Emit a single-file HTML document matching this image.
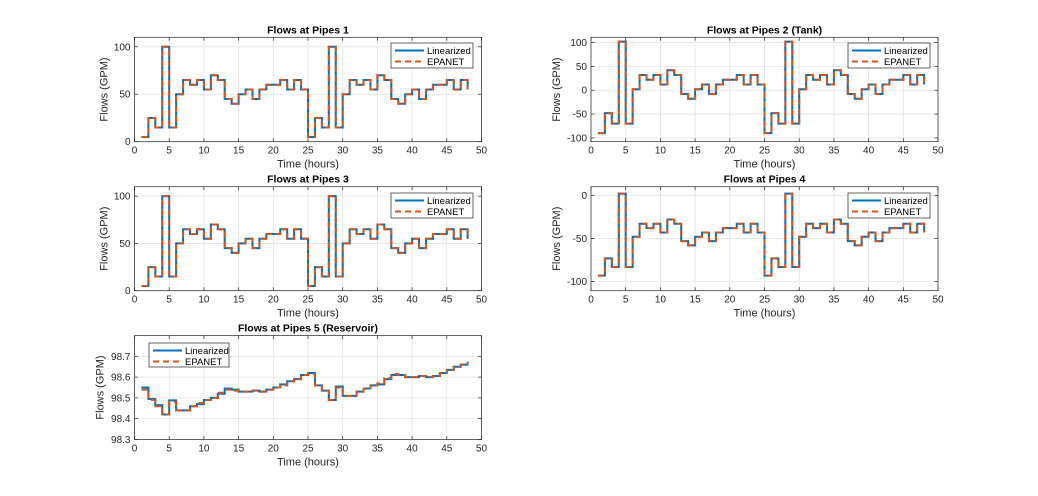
<!DOCTYPE html>
<html><head><meta charset="utf-8"><style>
html,body{margin:0;padding:0;background:#fff;}
svg{display:block;font-family:"Liberation Sans",sans-serif;}
</style></head><body>
<svg id="fig" width="1038" height="496" viewBox="0 0 1038 496"></svg>
<script>
const hours = [1,2,3,4,5,6,7,8,9,10,11,12,13,14,15,16,17,18,19,20,21,22,23,24,25,26,27,28,29,30,31,32,33,34,35,36,37,38,39,40,41,42,43,44,45,46,47,48];
const pipe1 = [5,25,15,100,15,50,65,60,65,55,70,65,45,40,50,55,45,55,60,60,65,55,65,55,5,25,15,100,15,50,65,60,65,55,70,65,45,40,50,55,45,55,60,60,65,55,65,55];
const pipe2 = [-90,-48,-70,102,-70,2,32,22,32,12,42,32,-8,-18,2,12,-8,12,22,22,32,12,32,12,-90,-48,-70,102,-70,2,32,22,32,12,42,32,-8,-18,2,12,-8,12,22,22,32,12,32,12];
const pipe3 = [5,25,15,100,15,50,65,60,65,55,70,65,45,40,50,55,45,55,60,60,65,55,65,55,5,25,15,100,15,50,65,60,65,55,70,65,45,40,50,55,45,55,60,60,65,55,65,55];
const pipe4 = [-93,-73,-83,2,-83,-48,-33,-38,-33,-43,-28,-33,-53,-58,-48,-43,-53,-43,-38,-38,-33,-43,-33,-43,-93,-73,-83,2,-83,-48,-33,-38,-33,-43,-28,-33,-53,-58,-48,-43,-53,-43,-38,-38,-33,-43,-33,-43];
const pipe5Lin = [98.55,98.495,98.465,98.42,98.488,98.44,98.44,98.46,98.47,98.49,98.5,98.52,98.545,98.54,98.53,98.53,98.535,98.53,98.54,98.55,98.565,98.58,98.59,98.61,98.62,98.56,98.535,98.49,98.555,98.51,98.51,98.53,98.545,98.56,98.565,98.59,98.61,98.61,98.6,98.6,98.605,98.6,98.605,98.62,98.635,98.65,98.66,98.67];
const pipe5Epa = [98.54,98.49,98.46,98.42,98.48,98.44,98.44,98.46,98.475,98.49,98.5,98.525,98.54,98.535,98.53,98.53,98.535,98.53,98.54,98.55,98.56,98.58,98.59,98.61,98.615,98.56,98.535,98.49,98.55,98.51,98.51,98.53,98.545,98.56,98.57,98.595,98.615,98.61,98.6,98.6,98.605,98.6,98.605,98.62,98.635,98.65,98.66,98.675];
const xTicks = [0,5,10,15,20,25,30,35,40,45,50];

const NS="http://www.w3.org/2000/svg";
const fig=document.getElementById('fig');
function mk(tag,attrs,parent){const e=document.createElementNS(NS,tag);for(const k in attrs)e.setAttribute(k,attrs[k]);(parent||fig).appendChild(e);return e;}

function panel(id,title,box,ylim,yTicks,yFmt,lin,epa,legend){
  const g=mk('g',{});
  
  
  const [L,T,R,B]=box;
  const sx=v=>L+(v-0)/(50-0)*(R-L);
  const sy=v=>B-(v-ylim[0])/(ylim[1]-ylim[0])*(B-T);
  mk('rect',{x:L,y:T,width:R-L,height:B-T,fill:'#fff'},g);
  xTicks.forEach(t=>{const x=sx(t);mk('line',{x1:x,x2:x,y1:T,y2:B,stroke:'#e3e3e3','stroke-width':0.8},g);});
  yTicks.forEach(t=>{const y=sy(t);mk('line',{x1:L,x2:R,y1:y,y2:y,stroke:'#e3e3e3','stroke-width':0.8},g);});
  function stairs(vals){let d='';for(let i=0;i<hours.length;i++){const x=sx(hours[i]),y=sy(vals[i]);if(i===0)d+='M'+x+','+y;else d+='V'+y;if(i<hours.length-1)d+='H'+sx(hours[i+1]);}return d;}
  const p1=mk('path',{d:stairs(lin),fill:'none',stroke:'#0072BD','stroke-width':2},g);
  
  
  const p2=mk('path',{d:stairs(epa),fill:'none',stroke:'#D95319','stroke-width':2,'stroke-dasharray':'6,4'},g);
  
  
  mk('rect',{x:L,y:T,width:R-L,height:B-T,fill:'none',stroke:'#262626','stroke-width':0.7},g);
  xTicks.forEach(t=>{const x=sx(t);mk('line',{x1:x,x2:x,y1:B,y2:B-3.5,stroke:'#262626','stroke-width':0.7},g);mk('line',{x1:x,x2:x,y1:T,y2:T+3.5,stroke:'#262626','stroke-width':0.7},g);
    const tx=mk('text',{x:x,y:B+12,'font-size':10,'text-anchor':'middle',fill:'#262626'},g);tx.textContent=t;
    
    });
  yTicks.forEach(t=>{const y=sy(t);mk('line',{x1:L,x2:L+3.5,y1:y,y2:y,stroke:'#262626','stroke-width':0.7},g);mk('line',{x1:R,x2:R-3.5,y1:y,y2:y,stroke:'#262626','stroke-width':0.7},g);
    const tx=mk('text',{x:L-4,y:y+3.5,'font-size':10,'text-anchor':'end',fill:'#262626'},g);tx.textContent=yFmt(t);
    
    });
  const ti=mk('text',{x:(L+R)/2,y:T-4,'font-size':10.5,'font-weight':'bold','text-anchor':'middle',fill:'#000'},g);ti.textContent=title;
  
  
  const xl=mk('text',{x:(L+R)/2,y:B+26,'font-size':11,'text-anchor':'middle',fill:'#262626'},g);xl.textContent='Time (hours)';
  
  
  const yx=L-(yFmt(yTicks[0]).length>3?31:27);
  const yl=mk('text',{x:yx,y:(T+B)/2,'font-size':11,'text-anchor':'middle',fill:'#262626',transform:'rotate(-90 '+yx+' '+(T+B)/2+')'},g);yl.textContent='Flows (GPM)';
  
  
  const [lx,ly,lw,lh]=legend;
  const lg=mk('g',{},g);
  
  
  mk('rect',{x:lx,y:ly,width:lw,height:lh,fill:'#fff',stroke:'#262626','stroke-width':0.7},lg);
  mk('line',{x1:lx+4,x2:lx+33,y1:ly+7.5,y2:ly+7.5,stroke:'#0072BD','stroke-width':2},lg);
  mk('line',{x1:lx+4,x2:lx+33,y1:ly+18.5,y2:ly+18.5,stroke:'#D95319','stroke-width':2,'stroke-dasharray':'6,4'},lg);
  const t1=mk('text',{x:lx+36,y:ly+11,'font-size':9.5,fill:'#000'},lg);t1.textContent='Linearized';
  
  
  const t2=mk('text',{x:lx+36,y:ly+22,'font-size':9.5,fill:'#000'},lg);t2.textContent='EPANET';
  
  
}
panel('panel-pipe-1','Flows at Pipes 1',[134.5,37.3,481.5,141.7],[0,110],[0,50,100],v=>String(v),pipe1,pipe1,[391,43,82,25]);
panel('panel-pipe-2','Flows at Pipes 2 (Tank)',[591,37.3,938,141.7],[-108,111],[-100,-50,0,50,100],v=>String(v),pipe2,pipe2,[848,43,82,25]);
panel('panel-pipe-3','Flows at Pipes 3',[134.5,186.7,481.5,290.7],[0,110],[0,50,100],v=>String(v),pipe3,pipe3,[391,193,82,25]);
panel('panel-pipe-4','Flows at Pipes 4',[591,186.7,938,290.7],[-110.5,10],[-100,-50,0],v=>String(v),pipe4,pipe4,[848,193,82,25]);
panel('panel-pipe-5','Flows at Pipes 5 (Reservoir)',[134.5,335.5,481.5,439.5],[98.3,98.8],[98.3,98.4,98.5,98.6,98.7],v=>v.toFixed(1),pipe5Lin,pipe5Epa,[149,343,80,24]);
</script>
</body></html>
